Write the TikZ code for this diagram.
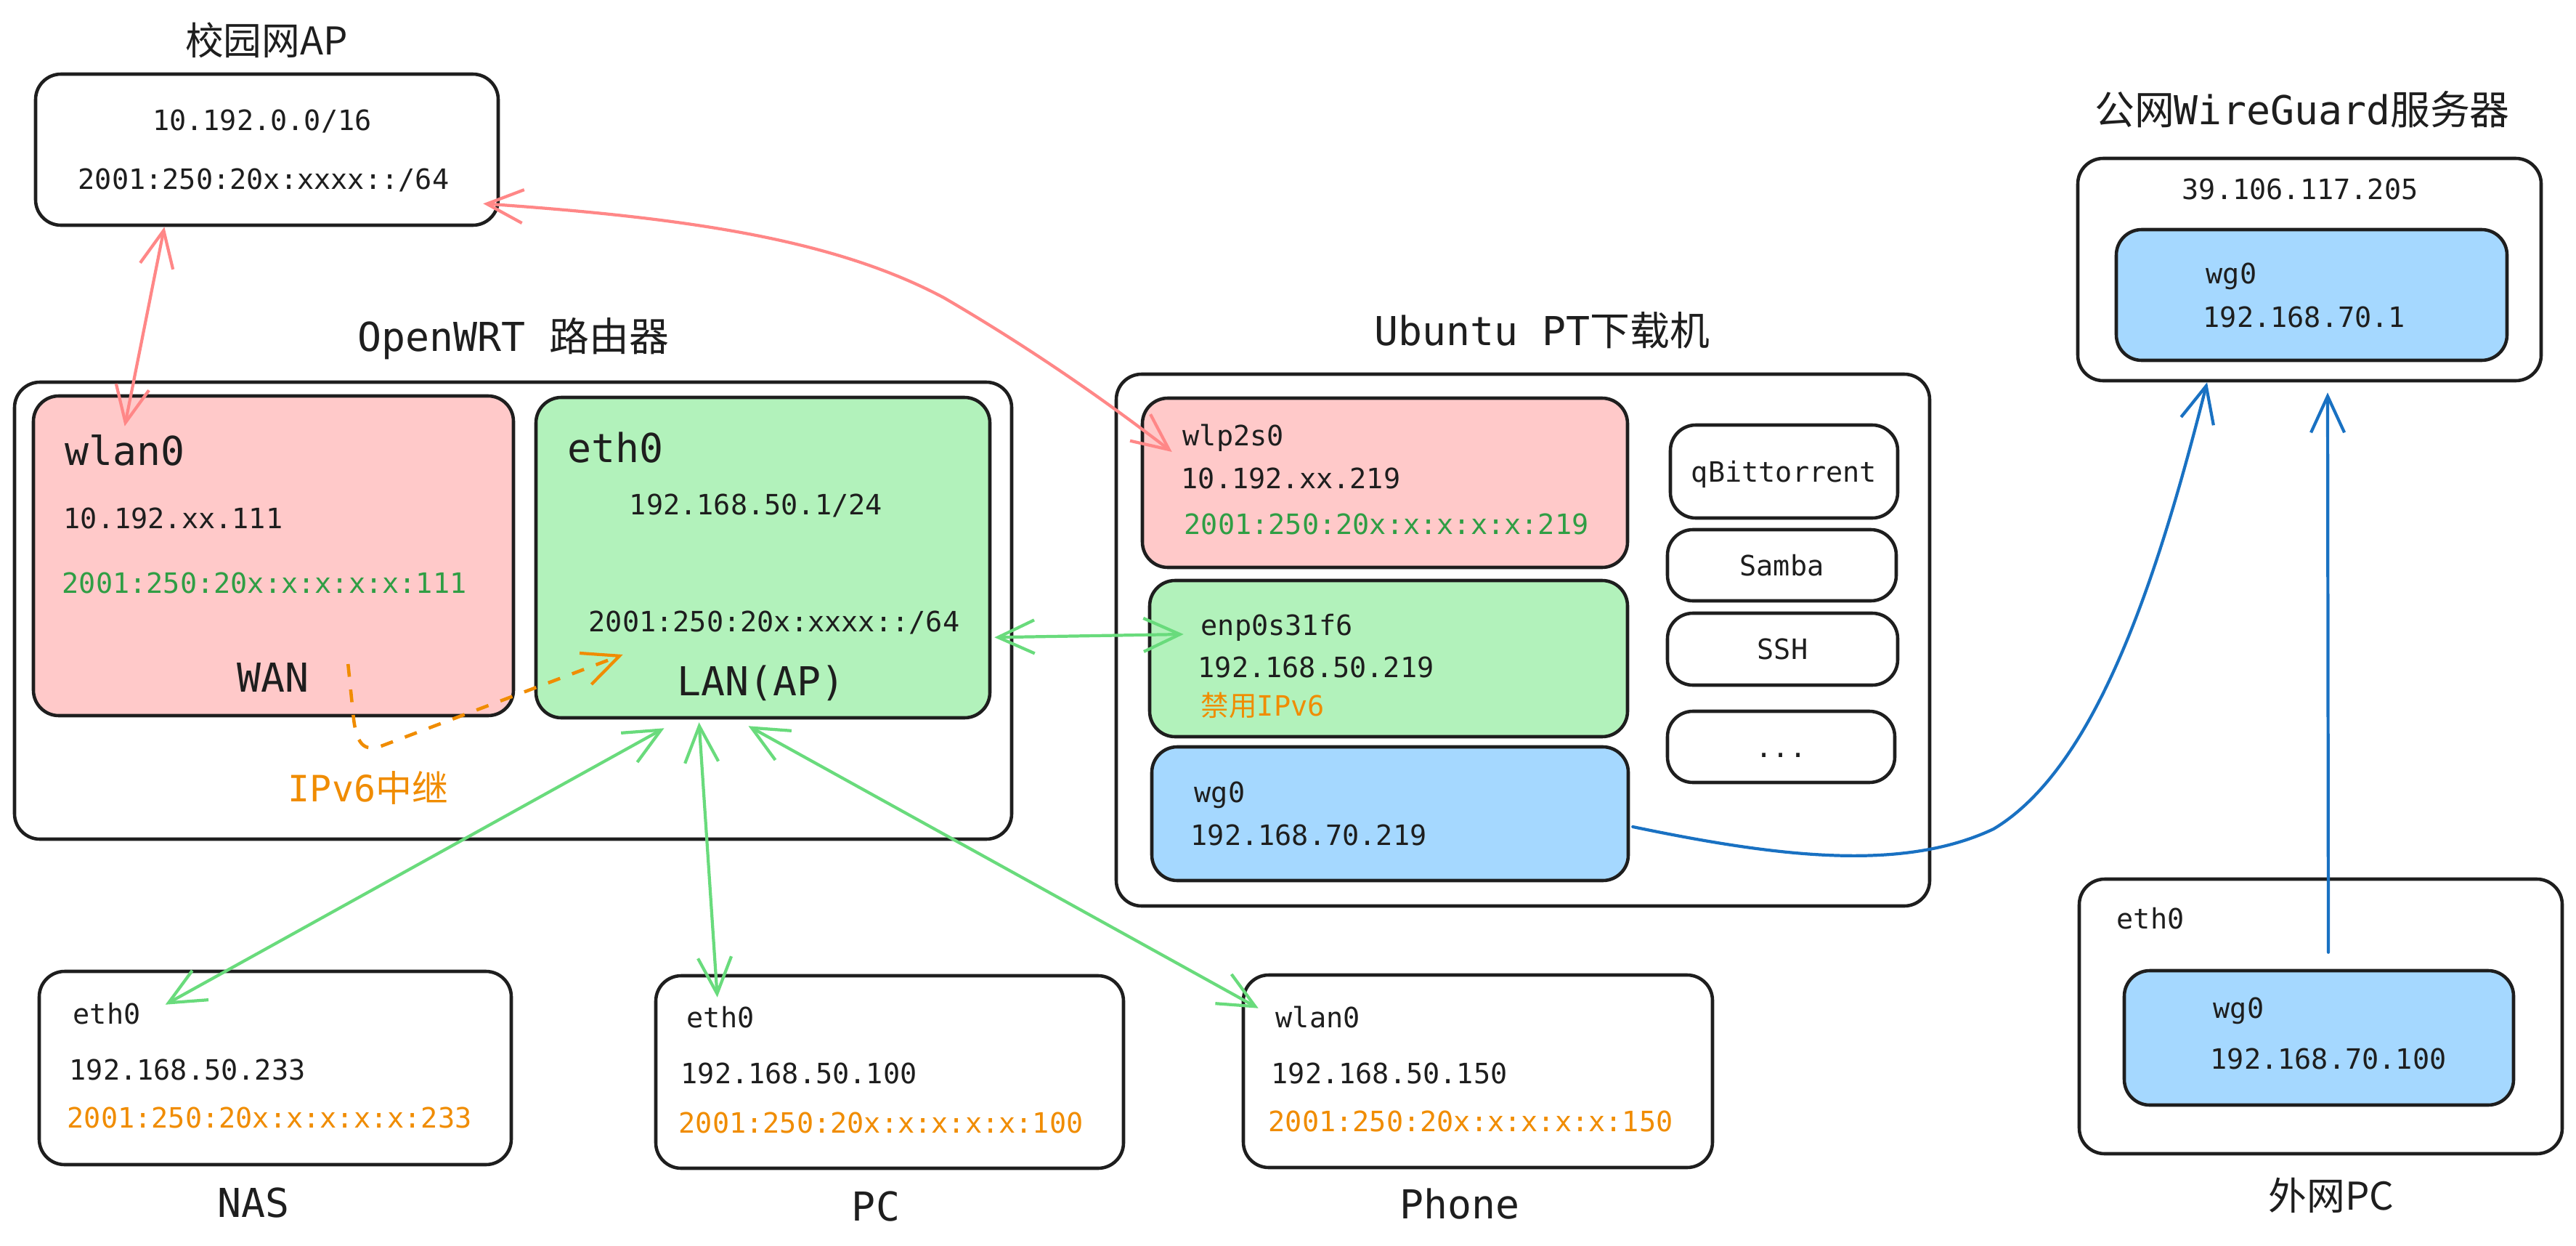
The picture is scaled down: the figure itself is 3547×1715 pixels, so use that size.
\documentclass[tikz,border=0pt]{standalone}
\usepackage{fontspec}
\setmainfont{DejaVu Sans Mono}
\newfontfamily\cjk{Noto Sans CJK SC}
\usetikzlibrary{arrows.meta,calc,fit}
\definecolor{ink}{HTML}{1E1E1E}
\definecolor{pinkf}{HTML}{FFC9C9}
\definecolor{greenf}{HTML}{B2F2BB}
\definecolor{bluef}{HTML}{A5D8FF}
\definecolor{redl}{HTML}{FF8787}
\definecolor{greenl}{HTML}{69DB7C}
\definecolor{bluel}{HTML}{1971C2}
\definecolor{orangel}{HTML}{F08C00}
\definecolor{gtext}{HTML}{2F9E44}
\newcommand\fsm{\fontsize{10.96}{13}\selectfont}
\newcommand\flg{\fontsize{15.6}{18}\selectfont}
\newcommand\fti{\fontsize{15}{18}\selectfont}
\newcommand\fmd{\fontsize{14.2}{17}\selectfont}
\begin{document}
\begin{tikzpicture}[x=0.01cm,y=-0.01cm,
  box/.style={draw=ink, line width=1.3pt, rounded corners=0.35cm, inner sep=0pt, line join=round},
  sm/.style={font=\fsm, text=ink, inner sep=0pt, text height=0.28cm, text depth=0pt},
  lg/.style={font=\flg, text=ink, inner sep=0pt, text height=0.40cm, text depth=0pt},
  ti/.style={font=\fti, text=ink, inner sep=0pt, text height=0.40cm, text depth=0pt},
  tipb/.tip={Straight Barb[length=5mm,width=4.6mm,line width=1.2pt]},
  redlink/.style={draw=redl, line width=1.2pt, line cap=round, tipb-tipb},
  greenlink/.style={draw=greenl, line width=1.2pt, line cap=round, tipb-tipb},
  bluelink/.style={draw=bluel, line width=1.2pt, line cap=round, -tipb},
  relaylink/.style={draw=orangel, line width=1.3pt, dash pattern=on 5pt off 5pt, -tipb}
]
\fill[white] (0,0) rectangle (3547,1715);
\useasboundingbox (0,0) rectangle (3547,1715);

% ---------- campus AP ----------
\node[ti] (apt) at (367,55) {\cjk 校园网AP};
\node[box, fit={(49,102)(686,310)}] (ap) {};
\node[sm] (ap1) at (361,165) {10.192.0.0/16};
\node[sm] (ap2) at (363,246) {2001:250:20x:xxxx::/64};

% ---------- OpenWRT router ----------
\node[lg] (rtt) at (707,463) {OpenWRT {\cjk 路由器}};
\node[box, fit={(20,526)(1393,1155)}] (router) {};
\node[box, fill=pinkf, fit={(46,545)(707,985)}] (wlan) {};
\node[lg, anchor=west] (wlanname) at (89,620) {wlan0};
\node[sm, anchor=west] (wlanip4) at (87,713) {10.192.xx.111};
\node[sm, anchor=west, text=gtext] (wlanip6) at (85,802) {2001:250:20x:x:x:x:x:111};
\node[lg] (wan) at (376,932) {WAN};
\node[box, fill=greenf, fit={(738,547)(1363,988)}] (lan) {};
\node[lg, anchor=west] (lanname) at (781,616) {eth0};
\node[sm] (lanip4) at (1041,694) {192.168.50.1/24};
\node[sm] (lanip6) at (1066,855) {2001:250:20x:xxxx::/64};
\node[lg] (lanap) at (1048,937) {LAN(AP)};
\node[font=\fmd, text=orangel, inner sep=0pt, text height=0.37cm, text depth=0pt] (relay) at (507,1085) {IPv6{\cjk 中继}};

% ---------- Ubuntu ----------
\node[lg] (ubt) at (2123,455) {Ubuntu PT{\cjk 下载机}};
\node[box, fit={(1537,515)(2657,1247)}] (ubuntu) {};
\node[box, fill=pinkf, fit={(1573,548)(2241,781)}] (wlp) {};
\node[sm, anchor=west] (wlpn) at (1628,599) {wlp2s0};
\node[sm, anchor=west] (wlpip4) at (1626,658) {10.192.xx.219};
\node[sm, anchor=west, text=gtext] (wlpip6) at (1630,721) {2001:250:20x:x:x:x:x:219};
\node[box, fill=greenf, fit={(1583,799)(2241,1014)}] (enp) {};
\node[sm, anchor=west] (enpn) at (1653,860) {enp0s31f6};
\node[sm, anchor=west] (enpip4) at (1649,918) {192.168.50.219};
\node[sm, anchor=west, text=orangel, text height=0.3cm] (enpno6) at (1653,970) {{\cjk 禁用}IPv6};
\node[box, fill=bluef, fit={(1586,1028)(2242,1212)}] (wgu) {};
\node[sm, anchor=west] (wgun) at (1644,1090) {wg0};
\node[sm, anchor=west] (wguip) at (1639,1149) {192.168.70.219};
\node[box, fit={(2300,585)(2613,713)}] (qbt) {};
\node[sm] (qbtt) at (qbt.center) {qBittorrent};
\node[box, fit={(2296,729)(2611,827)}] (samba) {};
\node[sm] (sambat) at (samba.center) {Samba};
\node[box, fit={(2296,844)(2613,943)}] (ssh) {};
\node[sm] (ssht) at (ssh.center) {SSH};
\node[box, fit={(2296,979)(2609,1077)}] (more) {};
\node[sm] (moret) at (more.center) {...};

% ---------- WireGuard server ----------
\node[lg] (svt) at (3170,151) {{\cjk 公网}WireGuard{\cjk 服务器}};
\node[box, fit={(2861,218)(3499,524)}] (server) {};
\node[sm] (svip) at (3167,260) {39.106.117.205};
\node[box, fill=bluef, fit={(2914,316)(3452,496)}] (wgs) {};
\node[sm, anchor=west] (wgsn) at (3037,376) {wg0};
\node[sm, anchor=west] (wgsip) at (3033,436) {192.168.70.1};

% ---------- external PC ----------
\node[box, fit={(2863,1210)(3528,1588)}] (extpc) {};
\node[sm, anchor=west] (extn) at (2914,1264) {eth0};
\node[box, fill=bluef, fit={(2925,1336)(3461,1521)}] (wge) {};
\node[sm, anchor=west] (wgen) at (3047,1387) {wg0};
\node[sm, anchor=west] (wgeip) at (3043,1457) {192.168.70.100};
\node[ti] (extt) at (3210,1645) {\cjk 外网PC};

% ---------- LAN clients ----------
\node[box, fit={(54,1337)(704,1603)}] (nas) {};
\node[sm, anchor=west] (nasn) at (100,1395) {eth0};
\node[sm, anchor=west] (nasip4) at (95,1472) {192.168.50.233};
\node[sm, anchor=west, text=orangel] (nasip6) at (92,1538) {2001:250:20x:x:x:x:x:233};
\node[lg] (nast) at (349,1655) {NAS};

\node[box, fit={(903,1343)(1547,1608)}] (pc) {};
\node[sm, anchor=west] (pcn) at (945,1400) {eth0};
\node[sm, anchor=west] (pcip4) at (937,1477) {192.168.50.100};
\node[sm, anchor=west, text=orangel] (pcip6) at (934,1545) {2001:250:20x:x:x:x:x:100};
\node[lg] (pct) at (1206,1660) {PC};

\node[box, fit={(1712,1342)(2358,1607)}] (phone) {};
\node[sm, anchor=west] (phonen) at (1756,1400) {wlan0};
\node[sm, anchor=west] (phoneip4) at (1750,1477) {192.168.50.150};
\node[sm, anchor=west, text=orangel] (phoneip6) at (1746,1543) {2001:250:20x:x:x:x:x:150};
\node[lg] (phonet) at (2010,1657) {Phone};

% ---------- connectors ----------
\draw[redlink] ($(ap.south west)!0.28!(ap.south east)$) -- ($(wlan.north west)+(128,44)$);
\draw[redlink] ($(ap.south east)+(-23,-32)$) .. controls (950,300) and (1150,330) .. (1300,410)
   .. controls (1420,480) and (1520,550) .. ($(wlp.west)+(43,-42.5)$);

\draw[greenlink] ($(lan.south east)+(4,-113)$) -- ($(enp.west)+(49,-33.5)$);
\draw[greenlink] ($(lan.south)+(-136,12)$) -- ($(nas.north west)+(176,48)$);
\draw[greenlink] ($(lan.south)+(-88,4)$) -- ($(pc.north west)+(87,32)$);
\draw[greenlink] ($(lan.south)+(-20,9)$) -- ($(phone.north west)+(23,48)$);

\draw[bluelink] ($(wgu.east)+(4,18)$) .. controls (2450,1180) and (2620,1200) .. (2745,1141)
   .. controls (2880,1060) and (2965,820) .. ($(server.south)+(-141,0)$);
\draw[bluelink] ($(wge.north)+(13,-23)$) -- ($(server.south)+(25,14)$);

\draw[relaylink] ($(wan.east)+(53,-18)$) -- (487,990) .. controls (492,1030) and (505,1035) .. (530,1025)
   -- ($(lanap.west)+(-74,-36)$);
\end{tikzpicture}
\end{document}
